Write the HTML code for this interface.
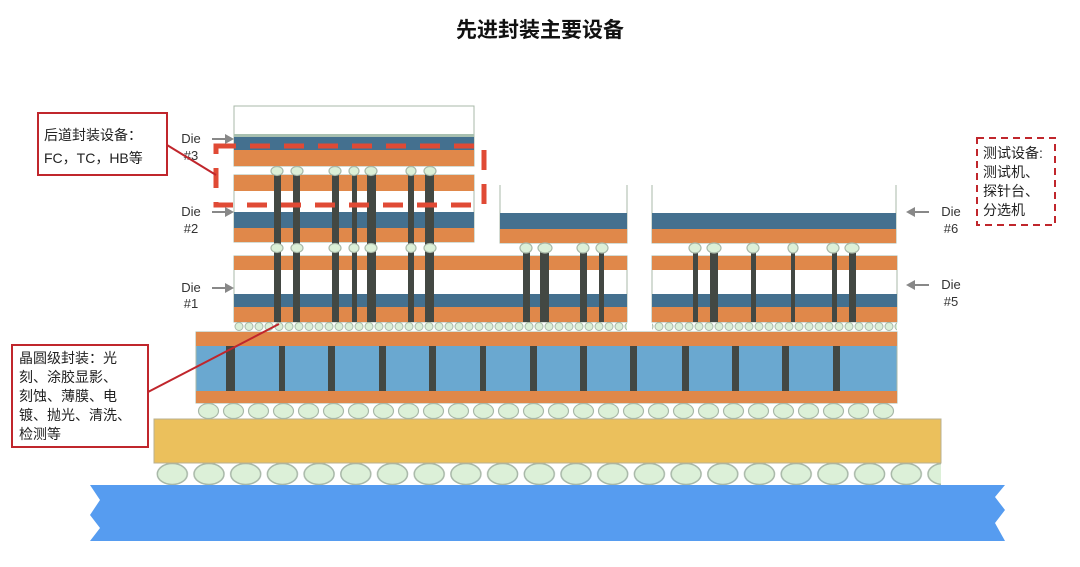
<!DOCTYPE html>
<html><head><meta charset="utf-8"><style>
html,body{margin:0;padding:0;background:#fff;}
svg{display:block;}
text{font-family:"Liberation Sans","Noto Sans CJK SC",sans-serif;}
</style></head><body>
<svg width="1080" height="567" viewBox="0 0 1080 567" xmlns="http://www.w3.org/2000/svg">
<defs>
<pattern id="mb" x="234" y="322" width="10" height="9" patternUnits="userSpaceOnUse">
<ellipse cx="5" cy="4.5" rx="4" ry="4" fill="#dcf0d8" stroke="#a8b8a8" stroke-width="1"/>
</pattern>
<pattern id="ib" x="196" y="403" width="25" height="16" patternUnits="userSpaceOnUse">
<ellipse cx="12.5" cy="8" rx="10" ry="7.5" fill="#dcf0d8" stroke="#a8b8a8" stroke-width="1.2"/>
</pattern>
<pattern id="bb" x="154" y="463" width="36.7" height="22" patternUnits="userSpaceOnUse">
<ellipse cx="18.3" cy="11" rx="15" ry="10.5" fill="#dcf0d8" stroke="#a8b8a8" stroke-width="1.5"/>
</pattern>
</defs>
<text x="540" y="37" text-anchor="middle" font-size="21" font-weight="bold" fill="#111">先进封装主要设备</text>

<!-- PCB -->
<polygon points="90,485 1005,485 995,497 1005,510 995,523 1005,541 90,541 100,528 90,515 100,500" fill="#569cf0"/>
<!-- big bumps -->
<rect x="154" y="463" width="787" height="22" fill="url(#bb)"/>
<!-- substrate -->
<rect x="154" y="419" width="787" height="44" fill="#ebc05c" stroke="#b8b090" stroke-width="1"/>
<!-- interposer bumps -->
<rect x="196" y="403" width="701" height="16" fill="url(#ib)"/>
<!-- interposer -->
<rect x="196" y="332" width="701" height="71" fill="#6aa8d0" stroke="#a8b8a8"/>
<rect x="196" y="332" width="701" height="14" fill="#e0884a"/>
<rect x="196" y="391" width="701" height="12" fill="#e0884a"/>
<g fill="#434843">
<rect x="226" y="346" width="9" height="45"/><rect x="279" y="346" width="6" height="45"/>
<rect x="328" y="346" width="7" height="45"/><rect x="379" y="346" width="7" height="45"/>
<rect x="429" y="346" width="7" height="45"/><rect x="480" y="346" width="6" height="45"/>
<rect x="530" y="346" width="7" height="45"/><rect x="580" y="346" width="7" height="45"/>
<rect x="630" y="346" width="7" height="45"/><rect x="682" y="346" width="7" height="45"/>
<rect x="732" y="346" width="7" height="45"/><rect x="782" y="346" width="7" height="45"/>
<rect x="833" y="346" width="7" height="45"/>
</g>
<!-- microbumps -->
<rect x="234" y="322" width="393" height="9" fill="url(#mb)"/>
<rect x="652" y="322" width="245" height="9" fill="url(#mb)"/>

<!-- Die1 left & Die5 right -->
<g>
<rect x="234" y="256" width="393" height="66" fill="#fff" stroke="#a8b8a8"/>
<rect x="234" y="256" width="393" height="14" fill="#e0884a"/>
<rect x="234" y="294" width="393" height="13" fill="#44708f"/>
<rect x="234" y="307" width="393" height="15" fill="#e0884a"/>
<rect x="652" y="256" width="245" height="66" fill="#fff" stroke="#a8b8a8"/>
<rect x="652" y="256" width="245" height="14" fill="#e0884a"/>
<rect x="652" y="294" width="245" height="13" fill="#44708f"/>
<rect x="652" y="307" width="245" height="15" fill="#e0884a"/>
</g>
<!-- Die2 -->
<rect x="234" y="175" width="240" height="67" fill="#fff" stroke="#a8b8a8"/>
<rect x="234" y="175" width="240" height="16" fill="#e0884a"/>
<rect x="234" y="212" width="240" height="16" fill="#44708f"/>
<rect x="234" y="228" width="240" height="14" fill="#e0884a"/>
<!-- middle die & Die6 -->
<path d="M500 185 V243 H627 V185" fill="#fff" stroke="#a8b8a8"/>
<rect x="500" y="213" width="127" height="16" fill="#44708f"/>
<rect x="500" y="229" width="127" height="14" fill="#e0884a"/>
<path d="M652 185 V243 H896 V185" fill="#fff" stroke="#a8b8a8"/>
<rect x="652" y="213" width="244" height="16" fill="#44708f"/>
<rect x="652" y="229" width="244" height="14" fill="#e0884a"/>
<!-- Die3 -->
<rect x="234" y="106" width="240" height="60" fill="#fff" stroke="#a8b8a8"/>
<rect x="234" y="134" width="240" height="3" fill="#a8c0b0"/>
<rect x="234" y="137" width="240" height="13" fill="#44708f"/>
<rect x="234" y="150" width="240" height="16" fill="#e0884a"/>

<!-- vias left block -->
<g fill="#434843">
<rect x="274" y="172" width="7" height="150"/><rect x="293" y="172" width="7" height="150"/>
<rect x="332" y="172" width="7" height="150"/><rect x="352" y="172" width="5" height="150"/>
<rect x="367" y="172" width="9" height="150"/><rect x="408" y="172" width="6" height="150"/>
<rect x="425" y="172" width="9" height="150"/>
<rect x="523" y="250" width="7" height="72"/><rect x="540" y="250" width="9" height="72"/>
<rect x="580" y="250" width="7" height="72"/><rect x="599" y="250" width="5" height="72"/>
<rect x="693" y="250" width="5" height="72"/><rect x="710" y="250" width="8" height="72"/>
<rect x="751" y="250" width="5" height="72"/><rect x="791" y="250" width="4" height="72"/>
<rect x="832" y="250" width="5" height="72"/><rect x="849" y="250" width="7" height="72"/>
</g>
<!-- bumps between dies -->
<g fill="#dcf0d8" stroke="#a8b8a8" stroke-width="1.2">
<g id="r1">
<ellipse cx="277" cy="171" rx="6" ry="4.5"/><ellipse cx="297" cy="171" rx="6" ry="4.5"/>
<ellipse cx="335" cy="171" rx="6" ry="4.5"/><ellipse cx="354" cy="171" rx="5" ry="4.5"/>
<ellipse cx="371" cy="171" rx="6" ry="4.5"/><ellipse cx="411" cy="171" rx="5" ry="4.5"/>
<ellipse cx="430" cy="171" rx="6" ry="4.5"/>
</g>
<use href="#r1" y="77"/>
<ellipse cx="526" cy="248" rx="6" ry="5"/><ellipse cx="545" cy="248" rx="7" ry="5"/>
<ellipse cx="583" cy="248" rx="6" ry="5"/><ellipse cx="602" cy="248" rx="6" ry="5"/>
<ellipse cx="695" cy="248" rx="6" ry="5"/><ellipse cx="714" cy="248" rx="7" ry="5"/>
<ellipse cx="753" cy="248" rx="6" ry="5"/><ellipse cx="793" cy="248" rx="5" ry="5"/>
<ellipse cx="833" cy="248" rx="6" ry="5"/><ellipse cx="852" cy="248" rx="7" ry="5"/>
</g>

<!-- red dashed box -->
<rect x="216" y="146" width="268" height="59" fill="none" stroke="#e04a35" stroke-width="5" stroke-dasharray="20,14"/>

<!-- Die labels and arrows -->
<g font-size="13" fill="#333" text-anchor="middle">
<text x="191" y="143">Die</text><text x="191" y="160">#3</text>
<text x="191" y="216">Die</text><text x="191" y="233">#2</text>
<text x="191" y="292">Die</text><text x="191" y="308">#1</text>
<text x="951" y="216">Die</text><text x="951" y="233">#6</text>
<text x="951" y="289">Die</text><text x="951" y="306">#5</text>
</g>
<g stroke="#888" stroke-width="2" fill="#888">
<line x1="212" y1="139" x2="226" y2="139"/><polygon points="234,139 225,134 225,144" stroke="none"/>
<line x1="212" y1="212" x2="226" y2="212"/><polygon points="234,212 225,207 225,217" stroke="none"/>
<line x1="212" y1="288" x2="226" y2="288"/><polygon points="234,288 225,283 225,293" stroke="none"/>
<line x1="915" y1="212" x2="929" y2="212"/><polygon points="906,212 915,207 915,217" stroke="none"/>
<line x1="915" y1="285" x2="929" y2="285"/><polygon points="906,285 915,280 915,290" stroke="none"/>
</g>

<!-- callouts -->
<line x1="167" y1="145" x2="216" y2="175" stroke="#c0262c" stroke-width="2"/>
<rect x="38" y="113" width="129" height="62" fill="#fff" stroke="#c0262c" stroke-width="2"/>
<text x="44" y="140" font-size="14" fill="#222">后道封装设备：</text>
<text x="44" y="163" font-size="14" fill="#222">FC，TC，HB等</text>

<line x1="148" y1="392" x2="279" y2="324" stroke="#c0262c" stroke-width="2"/>
<rect x="12" y="345" width="136" height="102" fill="#fff" stroke="#c0262c" stroke-width="2"/>
<g font-size="14" fill="#222">
<text x="19" y="363">晶圆级封装：光</text>
<text x="19" y="382">刻、涂胶显影、</text>
<text x="19" y="401">刻蚀、薄膜、电</text>
<text x="19" y="420">镀、抛光、清洗、</text>
<text x="19" y="439">检测等</text>
</g>

<rect x="977" y="138" width="78" height="87" fill="#fff" stroke="#c0262c" stroke-width="2" stroke-dasharray="7,5"/>
<g font-size="14" fill="#222">
<text x="983" y="158">测试设备:</text>
<text x="983" y="177">测试机、</text>
<text x="983" y="196">探针台、</text>
<text x="983" y="215">分选机</text>
</g>
</svg>
</body></html>
